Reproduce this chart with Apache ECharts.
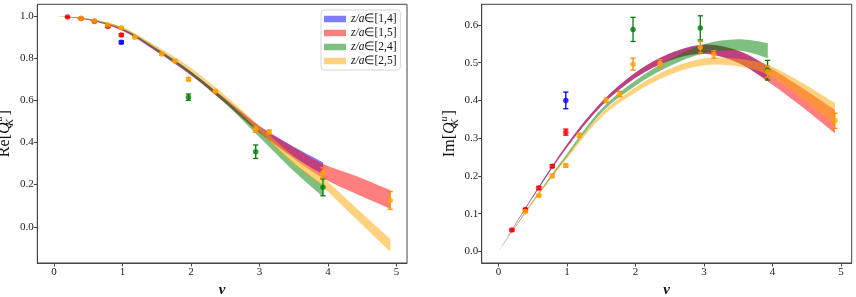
<!DOCTYPE html>
<html><head><meta charset="utf-8">
<script src="https://cdn.jsdelivr.net/npm/echarts@6/dist/echarts.min.js"></script>
<style>html,body{margin:0;padding:0;background:#fff}#c{width:856px;height:297px}</style>
</head><body><div id="c"></div>
<script>
// ---------- data ----------
const bandNames = ['z/a∈[1,4]', 'z/a∈[1,5]', 'z/a∈[2,4]', 'z/a∈[2,5]'];
const nuShort = [0, 0.5, 1, 1.5, 2, 2.5, 3, 3.5, 3.93];
const nuLong  = [0, 0.5, 1, 1.5, 2, 2.5, 3, 3.5, 3.93, 4.4, 4.91];

// Re bands (lower / upper)
const reB14Lo = [1.0, 0.981, 0.931, 0.832, 0.720, 0.588, 0.448, 0.332, 0.248];
const reB14Hi = [1.0, 0.985, 0.939, 0.844, 0.736, 0.608, 0.478, 0.380, 0.306];
const reB15Lo = [1.0, 0.981, 0.930, 0.830, 0.718, 0.586, 0.445, 0.324, 0.230, 0.158, 0.086];
const reB15Hi = [1.0, 0.985, 0.938, 0.842, 0.734, 0.606, 0.476, 0.377, 0.298, 0.242, 0.174];
const reB24Lo = [1.0, 0.983, 0.936, 0.836, 0.722, 0.585, 0.425, 0.265, 0.142];
const reB24Hi = [1.0, 0.987, 0.944, 0.848, 0.738, 0.605, 0.455, 0.305, 0.198];
const reB25Lo = [1.0, 0.984, 0.939, 0.844, 0.737, 0.603, 0.452, 0.296, 0.188, 0.040, -0.118];
const reB25Hi = [1.0, 0.988, 0.947, 0.856, 0.753, 0.623, 0.478, 0.334, 0.232, 0.092, -0.058];

// Im bands (lower / upper)
const imB14Lo = [0, 0.143, 0.276, 0.385, 0.460, 0.506, 0.524, 0.499, 0.452];
const imB14Hi = [0, 0.147, 0.284, 0.395, 0.474, 0.524, 0.548, 0.531, 0.492];
const imB15Lo = [0, 0.143, 0.276, 0.385, 0.460, 0.506, 0.523, 0.500, 0.450, 0.387, 0.313];
const imB15Hi = [0, 0.147, 0.284, 0.395, 0.474, 0.524, 0.547, 0.532, 0.490, 0.437, 0.375];
const imB24Lo = [0, 0.130, 0.251, 0.367, 0.439, 0.491, 0.525, 0.532, 0.512];
const imB24Hi = [0, 0.134, 0.259, 0.377, 0.453, 0.509, 0.549, 0.562, 0.552];
const imB25Lo = [0, 0.128, 0.246, 0.355, 0.421, 0.468, 0.493, 0.490, 0.468, 0.410, 0.335];
const imB25Hi = [0, 0.132, 0.254, 0.365, 0.435, 0.484, 0.511, 0.510, 0.494, 0.450, 0.393];

// data points
const nuRed = [0.196, 0.393, 0.589, 0.785, 0.982];
const reRed = [0.995, 0.988, 0.974, 0.950, 0.910];
const reRedErr = [0.002, 0.002, 0.003, 0.004, 0.006];
const imRed = [0.057, 0.111, 0.168, 0.226, 0.316];
const imRedErr = [0.003, 0.003, 0.004, 0.004, 0.008];

const nuBlue = [0.982];
const reBlue = [0.875];
const reBlueErr = [0.006];
const imBlue = [0.400];
const imBlueErr = [0.022];

const nuGreen = [1.963, 2.945, 3.927];
const reGreen = [0.615, 0.356, 0.187];
const reGreenErr = [0.015, 0.032, 0.040];
const imGreen = [0.588, 0.592, 0.480];
const imGreenErr = [0.032, 0.032, 0.026];

const nuOrange = [0.393, 0.589, 0.785, 0.982, 1.178, 1.571, 1.767, 1.963, 2.356, 2.945, 3.142, 3.927, 4.909];
const reOrange = [0.989, 0.977, 0.957, 0.944, 0.899, 0.820, 0.787, 0.700, 0.643, 0.462, 0.449, 0.256, 0.125];
const reOrangeErr = [0.002, 0.002, 0.003, 0.003, 0.003, 0.004, 0.004, 0.008, 0.005, 0.014, 0.010, 0.024, 0.042];
const imOrange = [0.106, 0.148, 0.200, 0.2275, 0.308, 0.400, 0.417, 0.496, 0.498, 0.541, 0.522, 0.476, 0.346];
const imOrangeErr = [0.003, 0.003, 0.004, 0.004, 0.005, 0.006, 0.007, 0.016, 0.010, 0.015, 0.010, 0.015, 0.020];

const xTicks = [0, 1, 2, 3, 4, 5];
const reTicks = [0, 0.2, 0.4, 0.6, 0.8, 1.0];
const imTicks = [0, 0.1, 0.2, 0.3, 0.4, 0.5, 0.6];

// ---------- styling ----------
const FONT = 'Liberation Serif';
const bandColors = ['#0000ff', '#ff0000', '#008000', '#ffa500'];
const bandLegendColors = ['rgba(0,0,255,0.5)', 'rgba(255,0,0,0.5)', 'rgba(0,128,0,0.5)', 'rgba(255,165,0,0.5)'];

// smooth path (Catmull-Rom as cubic Bezier) through pixel points
function curvePath(pts, start) {
  let d = start ? 'M' + pts[0][0] + ' ' + pts[0][1] : 'L' + pts[0][0] + ' ' + pts[0][1];
  for (let i = 0; i < pts.length - 1; i++) {
    const p0 = pts[Math.max(i - 1, 0)], p1 = pts[i], p2 = pts[i + 1], p3 = pts[Math.min(i + 2, pts.length - 1)];
    const c1 = [p1[0] + (p2[0] - p0[0]) / 6, p1[1] + (p2[1] - p0[1]) / 6];
    const c2 = [p2[0] - (p3[0] - p1[0]) / 6, p2[1] - (p3[1] - p1[1]) / 6];
    d += ' C' + c1[0] + ' ' + c1[1] + ' ' + c2[0] + ' ' + c2[1] + ' ' + p2[0] + ' ' + p2[1];
  }
  return d;
}

function bandSeries(idx, nu, lo, hi, axis) {
  return {
    type: 'custom', name: bandNames[idx], xAxisIndex: axis, yAxisIndex: axis,
    silent: true, z: 2, animation: false, clip: true,
    itemStyle: { color: bandLegendColors[idx] },
    data: nu.map((x, i) => [x, lo[i], hi[i]]),
    renderItem: function (params, api) {
      if (params.dataIndex !== 0) return null;
      const up = nu.map((x, i) => api.coord([x, hi[i]]));
      const dn = nu.map((x, i) => api.coord([x, lo[i]])).reverse();
      const d = curvePath(up, true) + ' ' + curvePath(dn, false) + ' Z';
      return { type: 'path', shape: { pathData: d }, style: { fill: bandColors[idx], opacity: 0.5, stroke: null } };
    }
  };
}

function errSeries(nu, val, err, color, axis) {
  return {
    type: 'custom', xAxisIndex: axis, yAxisIndex: axis, silent: true, z: 3, animation: false,
    data: nu.map((x, i) => [x, val[i], err[i]]),
    renderItem: function (params, api) {
      const x = api.value(0), y = api.value(1), e = api.value(2);
      const a = api.coord([x, y - e]), b = api.coord([x, y + e]);
      const st = { stroke: color, lineWidth: 1.3 };
      return { type: 'group', children: [
        { type: 'line', shape: { x1: a[0], y1: a[1], x2: b[0], y2: b[1] }, style: st },
        { type: 'line', shape: { x1: a[0] - 2.6, y1: a[1], x2: a[0] + 2.6, y2: a[1] }, style: st },
        { type: 'line', shape: { x1: b[0] - 2.6, y1: b[1], x2: b[0] + 2.6, y2: b[1] }, style: st }
      ]};
    }
  };
}
function ptSeries(nu, val, color, axis) {
  return {
    type: 'scatter', xAxisIndex: axis, yAxisIndex: axis, silent: true, z: 4, animation: false,
    symbol: 'circle', symbolSize: 5.5, itemStyle: { color: color },
    data: nu.map((x, i) => [x, val[i]])
  };
}

const series = [];
[[reB14Lo, reB14Hi, nuShort], [reB15Lo, reB15Hi, nuLong], [reB24Lo, reB24Hi, nuShort], [reB25Lo, reB25Hi, nuLong]]
  .forEach((b, i) => series.push(bandSeries(i, b[2], b[0], b[1], 0)));
[[imB14Lo, imB14Hi, nuShort], [imB15Lo, imB15Hi, nuLong], [imB24Lo, imB24Hi, nuShort], [imB25Lo, imB25Hi, nuLong]]
  .forEach((b, i) => series.push(bandSeries(i, b[2], b[0], b[1], 1)));

const ptSets = [
  [nuRed, reRed, reRedErr, imRed, imRedErr, 'red', 'red'],
  [nuBlue, reBlue, reBlueErr, imBlue, imBlueErr, 'blue', 'blue'],
  [nuGreen, reGreen, reGreenErr, imGreen, imGreenErr, 'green', 'green'],
  [nuOrange, reOrange, reOrangeErr, imOrange, imOrangeErr, 'orange', 'darkorange']
];
ptSets.forEach(s => {
  series.push(errSeries(s[0], s[1], s[2], s[6], 0));
  series.push(errSeries(s[0], s[3], s[4], s[6], 1));
});
ptSets.forEach(s => {
  series.push(ptSeries(s[0], s[1], s[5], 0));
  series.push(ptSeries(s[0], s[3], s[5], 1));
});

const labelStyle = { fontFamily: FONT, fontSize: 11, color: '#222' };
function xAxis(i) {
  return {
    type: 'value', gridIndex: i, min: -0.2455, max: 5.1545,
    splitLine: { show: false },
    axisLine: { show: true, onZero: false, lineStyle: { color: '#444', width: 1 } },
    axisTick: { show: true, length: 3.5, customValues: xTicks, lineStyle: { color: '#444' } },
    axisLabel: Object.assign({ customValues: xTicks, margin: 3.5, formatter: v => String(v) }, labelStyle),
    name: 'ν', nameLocation: 'middle', nameGap: 13,
    nameTextStyle: { fontFamily: FONT, fontSize: 15, fontStyle: 'italic', fontWeight: 'bold', color: '#111' }
  };
}
function yAxis(i, min, max, ticks, pre) {
  return {
    type: 'value', gridIndex: i, min: min, max: max,
    splitLine: { show: false },
    axisLine: { show: true, onZero: false, lineStyle: { color: '#444', width: 1 } },
    axisTick: { show: true, length: 3.5, customValues: ticks, lineStyle: { color: '#444' } },
    axisLabel: Object.assign({ customValues: ticks, margin: 3.5, formatter: v => v.toFixed(1) }, labelStyle),
    name: '{n|' + pre + '[}{q|Q}{k|K}{u|u}{n|]}', nameLocation: 'middle', nameGap: 15,
    nameTextStyle: {
      color: '#111',
      rich: {
        n: { fontFamily: FONT, fontSize: 16, color: '#111', lineHeight: 22, verticalAlign: 'middle' },
        q: { fontFamily: FONT, fontSize: 16, fontStyle: 'italic', color: '#111', lineHeight: 22, verticalAlign: 'middle' },
        k: { fontFamily: FONT, fontSize: 10.5, fontStyle: 'italic', color: '#111', width: 0.01, verticalAlign: 'bottom', lineHeight: 22 },
        u: { fontFamily: FONT, fontSize: 10.5, fontStyle: 'italic', color: '#111', width: 7, verticalAlign: 'top', lineHeight: 22 }
      }
    }
  };
}

const option = {
  animation: false,
  backgroundColor: '#fff',
  grid: [
    { left: 37.3, top: 4.3, width: 369.7, height: 258.7, outerBoundsMode: 'none', containLabel: false,
      show: true, borderColor: '#444', borderWidth: 1, backgroundColor: 'transparent' },
    { left: 481.7, top: 4.3, width: 370, height: 258.7, outerBoundsMode: 'none', containLabel: false,
      show: true, borderColor: '#444', borderWidth: 1, backgroundColor: 'transparent' }
  ],
  xAxis: [xAxis(0), xAxis(1)],
  yAxis: [yAxis(0, -0.172, 1.0555, reTicks, 'Re'), yAxis(1, -0.0305, 0.6545, imTicks, 'Im')],
  legend: {
    orient: 'vertical', left: 321, top: 10,
    padding: [3, 4, 3, 3], itemGap: 2, itemWidth: 22, itemHeight: 6.5,
    backgroundColor: 'rgba(255,255,255,0.8)', borderColor: '#d6d6d6', borderWidth: 1, borderRadius: 3,
    selectedMode: false,
    data: bandNames.map((n, i) => ({ name: n, icon: 'rect', itemStyle: { color: bandLegendColors[i] } })),
    formatter: n => '{i|z/a}{n|' + n.slice(3) + '}',
    textStyle: {
      rich: {
        i: { fontFamily: FONT, fontSize: 11.5, fontStyle: 'italic', color: '#111', lineHeight: 13 },
        n: { fontFamily: FONT, fontSize: 11.5, color: '#111', lineHeight: 13 }
      }
    }
  },
  series: series
};
const chart = echarts.init(document.getElementById('c'), null, { renderer: 'canvas' });
chart.setOption(option);
</script>
</body></html>
